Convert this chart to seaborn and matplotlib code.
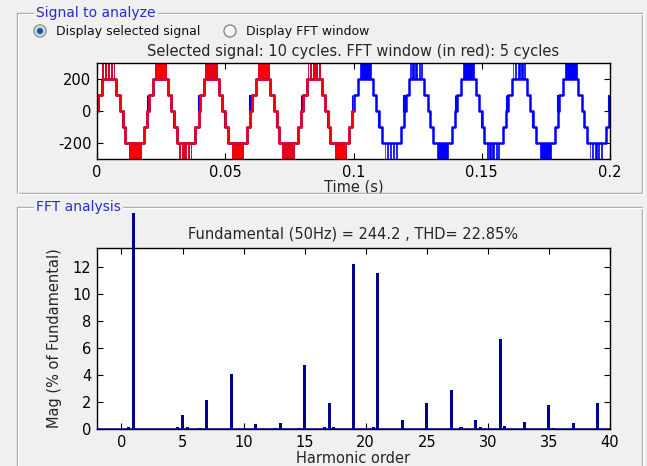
import numpy as np
import matplotlib
matplotlib.use("Agg")
import matplotlib.pyplot as plt
from matplotlib.patches import Rectangle, Ellipse
from matplotlib.transforms import Bbox
import seaborn as sns

### ---- Signal to analyze: one 40 ms pattern (two 50 Hz cycles), repeated
pattern_ms = 40.0
n_patterns = 5
fft_window_s = 0.1
# staircase breakpoints (ms) and levels
step_ms = [0.0, 0.3, 1.8, 7.6, 8.9, 10.0, 11.0, 18.4, 19.6,
           20.0, 20.3, 21.8, 27.6, 28.9, 30.0, 31.0, 38.4, 39.6]
step_lvl = [0, 100, 200, 100, 0, -100, -200, -100, 0,
            0, 100, 200, 100, 0, -100, -200, -100, 0]
# switching bursts 200 <-> 300 and -200 <-> -300 (start ms, end ms)
peak_burst = [(2.1, 2.35), (2.95, 3.5), (4.1, 4.8), (5.4, 5.9), (6.5, 6.8),
              (22.6, 27.0)]
trough_burst = [(12.6, 17.0),
                (32.1, 32.35), (32.95, 33.5), (34.1, 34.8), (35.4, 35.9), (36.5, 36.8)]
# short bursts around zero crossings (only visible on the full signal)
zero_up_burst = [(0.0, 0.25), (19.4, 19.6), (20.0, 20.25), (39.4, 39.6)]
zero_dn_burst = [(9.7, 9.95), (29.7, 29.95)]
burst_levels = (200, 300)
zero_levels = (0, 100)

time_ticks = [0, 0.05, 0.1, 0.15, 0.2]
time_tick_labels = ["0", "0.05", "0.1", "0.15", "0.2"]
sig_ticks = [-200, 0, 200]
sig_lim = (-300, 300)

### ---- FFT analysis
harm_order = [0.6, 1, 4.6, 5, 5.4, 6.4, 7, 9, 11, 12.6,
              13, 14.6, 15, 16.6, 17, 17.4, 19, 20.6, 21, 23,
              25, 27, 27.8, 29, 29.4, 31, 31.4, 33, 35, 35.4,
              37, 39]
mag_pct = [0.15, 100, 0.12, 1.05, 0.12, 0.1, 2.15, 4.05, 0.4, 0.1,
           0.42, 0.1, 4.75, 0.12, 1.95, 0.12, 12.2, 0.12, 11.6, 0.65,
           1.95, 2.9, 0.12, 0.7, 0.12, 6.7, 0.2, 0.55, 1.8, 0.08,
           0.45, 1.95]
harm_ticks = [0, 5, 10, 15, 20, 25, 30, 35, 40]
mag_ticks = [0, 2, 4, 6, 8, 10, 12]

signal_title = "Selected signal: 10 cycles. FFT window (in red): 5 cycles"
fft_title = "Fundamental (50Hz) = 244.2 , THD= 22.85%"

### ---- build the signal series from the pattern
def tile_ms(times):
    times = np.asarray(times, dtype=float)
    return np.concatenate([times + k * pattern_ms for k in range(n_patterns)]) / 1000.0

t_all = np.append(tile_ms(step_ms), n_patterns * pattern_ms / 1000.0)
v_all = np.append(np.tile(step_lvl, n_patterns), step_lvl[-1])
in_win = t_all < fft_window_s
t_red = np.append(t_all[in_win], fft_window_s)
v_red = np.append(v_all[in_win], v_all[in_win][-1])

def tile_bursts(bursts):
    s = tile_ms([b[0] for b in bursts])
    e = tile_ms([b[1] for b in bursts])
    return list(zip(s, e))

peaks = tile_bursts(peak_burst)
troughs = tile_bursts(trough_burst)
zup = tile_bursts(zero_up_burst)
zdn = tile_bursts(zero_dn_burst)

### ---- figure / style
sns.set_style("ticks")
plt.rcParams["font.family"] = ["DejaVu Sans"]
W, H = 647, 466
bg = "#f0f0f0"
fig = plt.figure(figsize=(W / 100, H / 100), dpi=100, facecolor=bg)

def fx(px):
    return px / W

def fy(py):
    return 1 - py / H

# group boxes (etched frame)
def group_box(x0, y0, x1, y1, title):
    for off, col in [(0, "#a0a0a0"), (1, "#ffffff")]:
        fig.add_artist(Rectangle((fx(x0 + off), fy(y1 + off)), fx(x1) - fx(x0),
                                 fy(y0) - fy(y1), transform=fig.transFigure,
                                 fill=False, ec=col, lw=1))
    fig.text(fx(36), fy(y0), title, ha="left", va="center", fontsize=10,
             color="#2a2ad0", bbox=dict(fc=bg, ec="none", pad=1.5))

group_box(17, 13, 642, 193, "Signal to analyze")
group_box(17, 207, 642, 480, "FFT analysis")

# radio buttons
def radio(cx, cy, label, selected):
    fig.add_artist(Ellipse((fx(cx), fy(cy)), 12 / W, 12 / H, transform=fig.transFigure,
                           fc="#f6f6f6", ec="#8a8a8a", lw=1))
    if selected:
        fig.add_artist(Ellipse((fx(cx), fy(cy)), 7 / W, 7 / H, transform=fig.transFigure,
                               fc="#1d4f8c", ec="#8fc0e8", lw=1))
    fig.text(fx(cx + 16), fy(cy), label, ha="left", va="center", fontsize=9,
             color="#101010")

radio(40, 31, "Display selected signal", True)
radio(230, 31, "Display FFT window", False)

def style_axes(ax):
    for sp in ax.spines.values():
        sp.set_visible(True)
        sp.set_color("black")
        sp.set_linewidth(1)
    ax.set_facecolor("white")
    ax.tick_params(direction="in", top=True, right=True, length=4, width=0.8,
                   labelsize=10.5, colors="black", pad=4)

### ---- top axes: signal
ax1 = fig.add_axes([fx(97), fy(159), fx(610) - fx(97), fy(63) - fy(159)])
sns.lineplot(x=t_all, y=v_all, ax=ax1, color="#0000ff", lw=1.8,
             drawstyle="steps-post", estimator=None, sort=False)
for s, e in peaks:
    ax1.fill_between([s, e], *burst_levels, color="#0000ff", lw=0.5)
for s, e in troughs:
    ax1.fill_between([s, e], -burst_levels[1], -burst_levels[0], color="#0000ff", lw=0.5)
for s, e in zup:
    ax1.fill_between([s, e], *zero_levels, color="#0000ff", lw=0.8)
for s, e in zdn:
    ax1.fill_between([s, e], -zero_levels[1], -zero_levels[0], color="#0000ff", lw=0.8)

sns.lineplot(x=t_red, y=v_red, ax=ax1, color="#ff0000", lw=1.8,
             drawstyle="steps-post", estimator=None, sort=False)
for s, e in peaks:
    if e <= fft_window_s:
        ax1.fill_between([s, e], *burst_levels, color="#ff0000", lw=0.5)
for s, e in troughs:
    if e <= fft_window_s:
        ax1.fill_between([s, e], -burst_levels[1], -burst_levels[0], color="#ff0000", lw=0.5)

ax1.set_xlim(time_ticks[0], time_ticks[-1])
ax1.set_ylim(*sig_lim)
ax1.set_xticks(time_ticks)
ax1.set_xticklabels(time_tick_labels)
ax1.set_yticks(sig_ticks)
ax1.set_yticklabels([str(v) for v in sig_ticks])
ax1.set_xlabel("Time (s)", fontsize=10.5, labelpad=0)
ax1.set_ylabel("")
ax1.set_title(signal_title, fontsize=10.5, pad=5)
style_axes(ax1)

### ---- bottom axes: FFT bars
bar_color = "#000090"
ax2 = fig.add_axes([fx(97), fy(429), fx(610) - fx(97), fy(248) - fy(429)])
sns.barplot(x=harm_order, y=mag_pct, ax=ax2, native_scale=True, width=0.62,
            color=bar_color, saturation=1, errorbar=None, linewidth=0)
ax2.axhline(0, color=bar_color, lw=1.8, zorder=3)
ax2.set_xlim(-2, 40)
ax2.set_ylim(0, 1.1 * max(m for m in mag_pct if m < 100))
ax2.set_xticks(harm_ticks)
ax2.set_xticklabels([str(v) for v in harm_ticks])
ax2.set_yticks(mag_ticks)
ax2.set_yticklabels([str(v) for v in mag_ticks])
ax2.set_xlabel("Harmonic order", fontsize=10.5, labelpad=1)
ax2.set_ylabel("Mag (% of Fundamental)", fontsize=10.5, labelpad=8)
ax2.set_title(fft_title, fontsize=10.5, pad=7)
style_axes(ax2)

# the fundamental bar runs out of the axes up to the panel frame
clip = Bbox.from_extents(97, H - 429, 610, H - 213)
for p in ax2.patches:
    p.set_clip_path(None)
    p.set_clip_box(clip)

fig.savefig("out.png", dpi=100, facecolor=bg)
